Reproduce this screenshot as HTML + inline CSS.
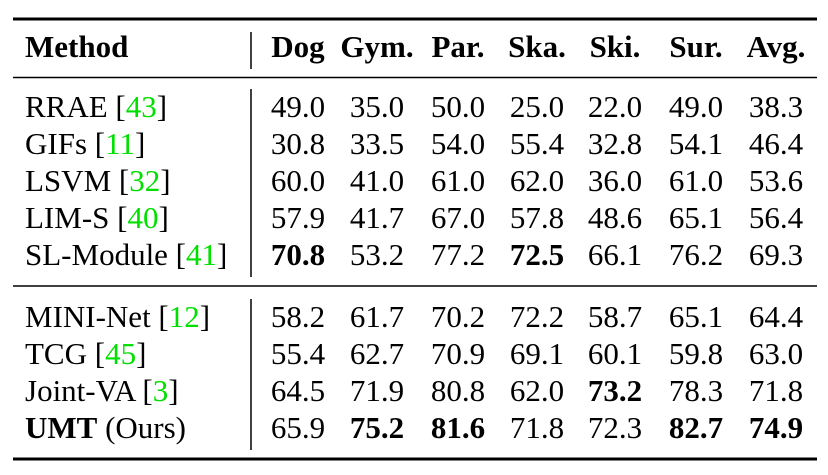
<!DOCTYPE html>
<html><head><meta charset="utf-8"><style>
body{margin:0;background:#fff;width:828px;height:470px;overflow:hidden}
svg text{font-family:"Liberation Serif",serif;font-size:31px;fill:#000}
.b{font-weight:bold}.g{fill:#00e000}
</style></head><body>
<svg width="828" height="470" xmlns="http://www.w3.org/2000/svg">
<line x1="13" x2="817" y1="19" y2="19" stroke="#000" stroke-width="3"/>
<line x1="13" x2="817" y1="77.5" y2="77.5" stroke="#000" stroke-width="1.5"/>
<line x1="13" x2="817" y1="286" y2="286" stroke="#000" stroke-width="1.5"/>
<line x1="13" x2="817" y1="459" y2="459" stroke="#000" stroke-width="3"/>
<line x1="251" x2="251" y1="32" y2="69" stroke="#000" stroke-width="1.5"/>
<line x1="251" x2="251" y1="89" y2="277" stroke="#000" stroke-width="1.5"/>
<line x1="251" x2="251" y1="299" y2="450" stroke="#000" stroke-width="1.5"/>
<g id="content"></g>
</svg>
<script>
const headers=["Dog","Gym.","Par.","Ska.","Ski.","Sur.","Avg."];
const methods=["RRAE","GIFs","LSVM","LIM-S","SL-Module","MINI-Net","TCG","Joint-VA","UMT"];
const refs=["43","11","32","40","41","12","45","3",""];
const values=[
["49.0","35.0","50.0","25.0","22.0","49.0","38.3"],
["30.8","33.5","54.0","55.4","32.8","54.1","46.4"],
["60.0","41.0","61.0","62.0","36.0","61.0","53.6"],
["57.9","41.7","67.0","57.8","48.6","65.1","56.4"],
["70.8","53.2","77.2","72.5","66.1","76.2","69.3"],
["58.2","61.7","70.2","72.2","58.7","65.1","64.4"],
["55.4","62.7","70.9","69.1","60.1","59.8","63.0"],
["64.5","71.9","80.8","62.0","73.2","78.3","71.8"],
["65.9","75.2","81.6","71.8","72.3","82.7","74.9"]];
const bold=[[],[],[],[],[0,3],[],[],[4],[1,2,5,6]];
const colX=[298,377,458,537,615,696,776];
const rowY=[117,154,191,228,265,327,364,401,438];
const NS="http://www.w3.org/2000/svg";
const g=document.getElementById('content');
function t(x,y,s,cls,anchor){const e=document.createElementNS(NS,'text');e.setAttribute('x',x);e.setAttribute('y',y);if(cls)e.setAttribute('class',cls);e.setAttribute('text-anchor',anchor||'start');e.textContent=s;g.appendChild(e);return e;}
let h=t(25,57,"Method","b");


headers.forEach((s,i)=>{const e=t(colX[i],57,s,"b","middle");

});
methods.forEach((m,r)=>{
  const e=document.createElementNS(NS,'text');e.setAttribute('x',25);e.setAttribute('y',rowY[r]);
  
  
  if(m==="UMT"){e.innerHTML='<tspan class="b">UMT</tspan> (Ours)';}
  else{e.innerHTML=m+' [<tspan class="g">'+refs[r]+'</tspan>]';}
  g.appendChild(e);
  values[r].forEach((v,c)=>{const c2=t(colX[c],rowY[r],v,bold[r].includes(c)?"b":"","middle");
  
  });
});
</script>
</body></html>
